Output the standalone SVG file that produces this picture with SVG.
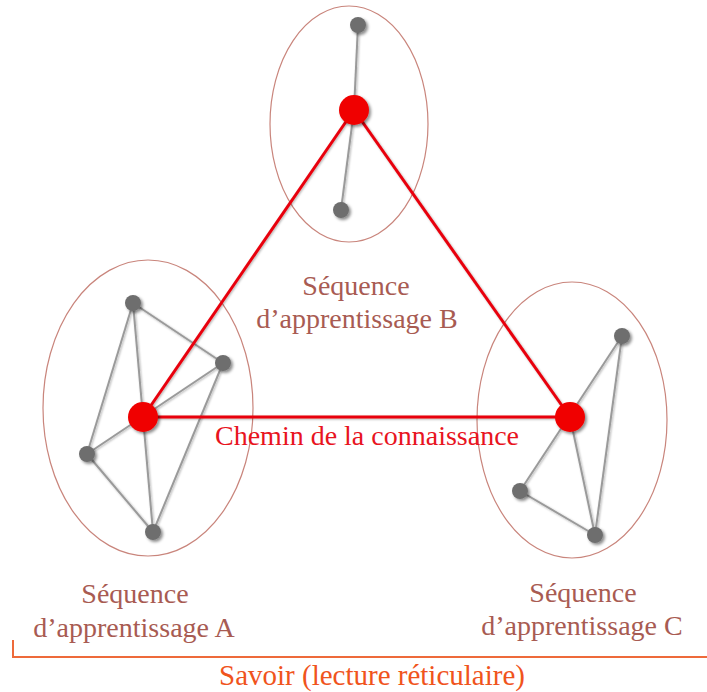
<svg xmlns="http://www.w3.org/2000/svg" width="707" height="692" viewBox="0 0 707 692">
<style>
.ell{fill:none;stroke:#c9857c;stroke-width:1.2}
.gl{stroke:#9a9a9a;stroke-width:2;fill:none}
.rl{stroke:#e8000a;stroke-width:3;fill:none}
.gn{fill:#6e6e6e}
.rn{fill:#f00000}
.seq{font-family:"Liberation Serif",serif;font-size:28px;fill:#a85b52;text-anchor:middle}
.path{font-family:"Liberation Serif",serif;font-size:28px;fill:#e8141e}
.sav{font-family:"Liberation Serif",serif;font-size:29px;fill:#f0541c;text-anchor:middle}
</style>
<defs>
<filter id="sh" x="-50%" y="-50%" width="200%" height="200%">
<feDropShadow dx="2" dy="2" stdDeviation="1.5" flood-color="#000" flood-opacity="0.45"/>
</filter>
<filter id="ls" x="-10%" y="-10%" width="120%" height="120%">
<feDropShadow dx="1" dy="1" stdDeviation="0.8" flood-color="#000" flood-opacity="0.3"/>
</filter>
</defs>
<rect width="707" height="692" fill="#fff"/>
<g id="groupB">
<ellipse class="ell" cx="349" cy="124" rx="79" ry="118"/>
</g>
<g id="groupA">
<ellipse class="ell" cx="148" cy="408" rx="105" ry="148"/>
</g>
<g id="groupC">
<ellipse class="ell" cx="572" cy="420" rx="95" ry="138"/>
</g>
<g id="connectors">
<g filter="url(#ls)">
<line class="gl" x1="358" y1="25" x2="354" y2="110"/>
<line class="gl" x1="354" y1="110" x2="341" y2="210"/>
<line class="gl" x1="133" y1="303" x2="223" y2="363"/>
<line class="gl" x1="133" y1="303" x2="87" y2="454"/>
<line class="gl" x1="133" y1="303" x2="143" y2="417"/>
<line class="gl" x1="87" y1="454" x2="223" y2="363"/>
<line class="gl" x1="223" y1="363" x2="153" y2="532"/>
<line class="gl" x1="87" y1="454" x2="153" y2="532"/>
<line class="gl" x1="143" y1="417" x2="153" y2="532"/>
<line class="gl" x1="622" y1="336" x2="520" y2="491"/>
<line class="gl" x1="622" y1="336" x2="595" y2="535"/>
<line class="gl" x1="520" y1="491" x2="595" y2="535"/>
<line class="gl" x1="570" y1="417" x2="595" y2="535"/>
</g>
<g filter="url(#ls)">
<line class="rl" x1="143" y1="417" x2="354" y2="110"/>
<line class="rl" x1="354" y1="110" x2="570" y2="417"/>
<line class="rl" x1="143" y1="417" x2="570" y2="417"/>
</g>
</g>
<g id="nodeB" filter="url(#sh)">
<circle class="gn" cx="358" cy="25" r="8"/>
<circle class="gn" cx="341" cy="210" r="8"/>
<circle class="rn" cx="354" cy="110" r="15"/>
</g>
<g id="nodeA" filter="url(#sh)">
<circle class="gn" cx="133" cy="303" r="8"/>
<circle class="gn" cx="223" cy="363" r="8"/>
<circle class="gn" cx="87" cy="454" r="8"/>
<circle class="gn" cx="153" cy="532" r="8"/>
<circle class="rn" cx="143" cy="417" r="15"/>
</g>
<g id="nodeC" filter="url(#sh)">
<circle class="gn" cx="622" cy="336" r="8"/>
<circle class="gn" cx="520" cy="491" r="8"/>
<circle class="gn" cx="595" cy="535" r="8"/>
<circle class="rn" cx="570" cy="417" r="15"/>
</g>
<g id="labelB">
<text class="seq" x="356" y="295">Séquence</text>
<text class="seq" x="357" y="328">d’apprentissage B</text>
</g>
<g id="labelA">
<text class="seq" x="135" y="603">Séquence</text>
<text class="seq" x="134" y="637">d’apprentissage A</text>
</g>
<g id="labelC">
<text class="seq" x="583" y="602">Séquence</text>
<text class="seq" x="582" y="635">d’apprentissage C</text>
</g>
<g id="pathLabel">
<text class="path" x="215" y="445">Chemin de la connaissance</text>
</g>
<g id="savoir">
<path d="M13 640 V657 H707" fill="none" stroke="#ee6a3a" stroke-width="2"/>
<text class="sav" x="372" y="685">Savoir (lecture réticulaire)</text>
</g>
</svg>
